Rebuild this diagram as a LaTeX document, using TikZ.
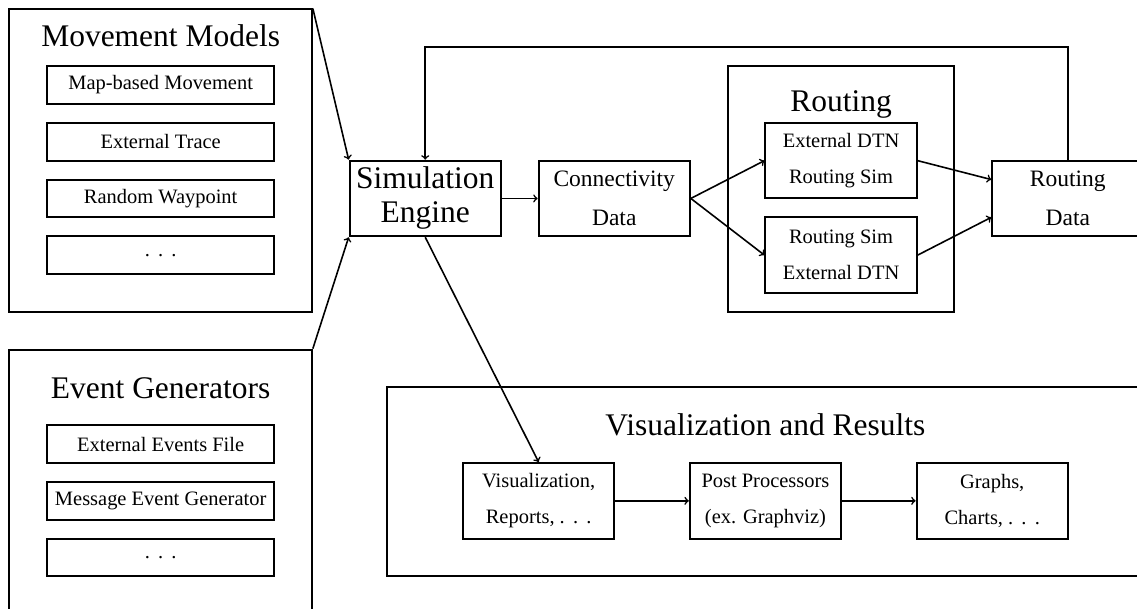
\documentclass[tikz,border=0pt]{standalone}
\usepackage{fontspec}
\setmainfont{Liberation Serif}
\newcommand{\spdots}{.\hspace{0.4em}.\hspace{0.4em}.}
\begin{document}
\begin{tikzpicture}[>=to]
        \tikzstyle{every node}+=[inner sep=0pt]
        \tikzstyle{outerbox}=[draw, line width=1.5pt]
        \tikzstyle{bigbox}=[draw, line width=1.5pt, minimum width=4cm, minimum height=2cm, align=center]
        \tikzstyle{innerbox}=[draw, line width=1.5pt, minimum width=6cm, minimum height=1cm, font=\fontsize{15.4}{27}\selectfont]
        \tikzstyle{heading}=[anchor=base, font=\fontsize{23.7}{26}\selectfont]
        \tikzstyle{small}=[font=\fontsize{15.4}{27}\selectfont]
        \tikzstyle{medium}=[font=\fontsize{17.7}{29}\selectfont]
        \tikzstyle{link}=[->, line width=1.2pt]
        \path [use as bounding box, clip] (0,0) rectangle (30.08,-16.11);
        % movement models
        \node [outerbox, minimum width=8cm, minimum height=8cm] (mm) at (4.25,-4.25) {};
        \node [heading] (mmtitle) at (4.25,-1.22) {Movement Models};
        \node [innerbox] (mapbased) at (4.25,-2.25) {Map-based Movement};
        \node [innerbox] (trace) at (4.25,-3.75) {External Trace};
        \node [innerbox] (waypoint) at (4.25,-5.25) {Random Waypoint};
        \node [innerbox] (mmmore) at (4.25,-6.75) {\spdots};
        % event generators
        \node [outerbox, minimum width=8cm, minimum height=8cm] (eg) at (4.25,-13.25) {};
        \node [heading] (egtitle) at (4.25,-10.53) {Event Generators};
        \node [innerbox] (eventsfile) at (4.25,-11.75) {External Events File};
        \node [innerbox] (msggen) at (4.25,-13.25) {Message Event Generator};
        \node [innerbox] (egmore) at (4.25,-14.75) {\spdots};
        % engine and data
        \node [bigbox, font=\fontsize{23.7}{25.6}\selectfont] (engine) at (11.25,-5.25) {Simulation\\Engine};
        \node [bigbox, medium] (conn) at (16.25,-5.25) {Connectivity\\Data};
        \node [outerbox, minimum width=6cm, minimum height=6.5cm] (routing) at (22.25,-5) {};
        \node [heading] (routingtitle) at (22.25,-2.94) {Routing};
        \node [bigbox, small] (rsimA) at (22.25,-4.25) {External DTN\\Routing Sim};
        \node [bigbox, small] (rsimB) at (22.25,-6.75) {Routing Sim\\External DTN};
        \node [bigbox, medium] (rdata) at (28.25,-5.25) {Routing\\Data};
        % visualization
        \node [outerbox, minimum width=20cm, minimum height=5cm] (results) at (20.25,-12.75) {};
        \node [heading] (resultstitle) at (20.25,-11.51) {Visualization and Results};
        \node [bigbox, small] (vis) at (14.25,-13.25) {Visualization,\\Reports, \spdots};
        \node [bigbox, small] (post) at (20.25,-13.25) {Post Processors\\(ex. Graphviz)};
        \node [bigbox, small] (graphs) at (26.25,-13.25) {Graphs,\\Charts, \spdots};
        % arrows
        \draw [link] (mm.north east) -- (engine.north west);
        \draw [link] (eg.north east) -- (engine.south west);
        \draw [link] (engine) -- (conn);
        \draw [link] (conn.east) -- (rsimA.west);
        \draw [link] (conn.east) -- (rsimB.west);
        \draw [link] (rsimA.east) -- ([yshift=0.5cm]rdata.west);
        \draw [link] (rsimB.east) -- ([yshift=-0.5cm]rdata.west);
        \draw [link] (rdata.north) |- (11.25,-1.25) -- (engine.north);
        \draw [link] (engine.south) -- (vis.north);
        \draw [link] (vis) -- (post);
        \draw [link] (post) -- (graphs);
\end{tikzpicture}
\end{document}
